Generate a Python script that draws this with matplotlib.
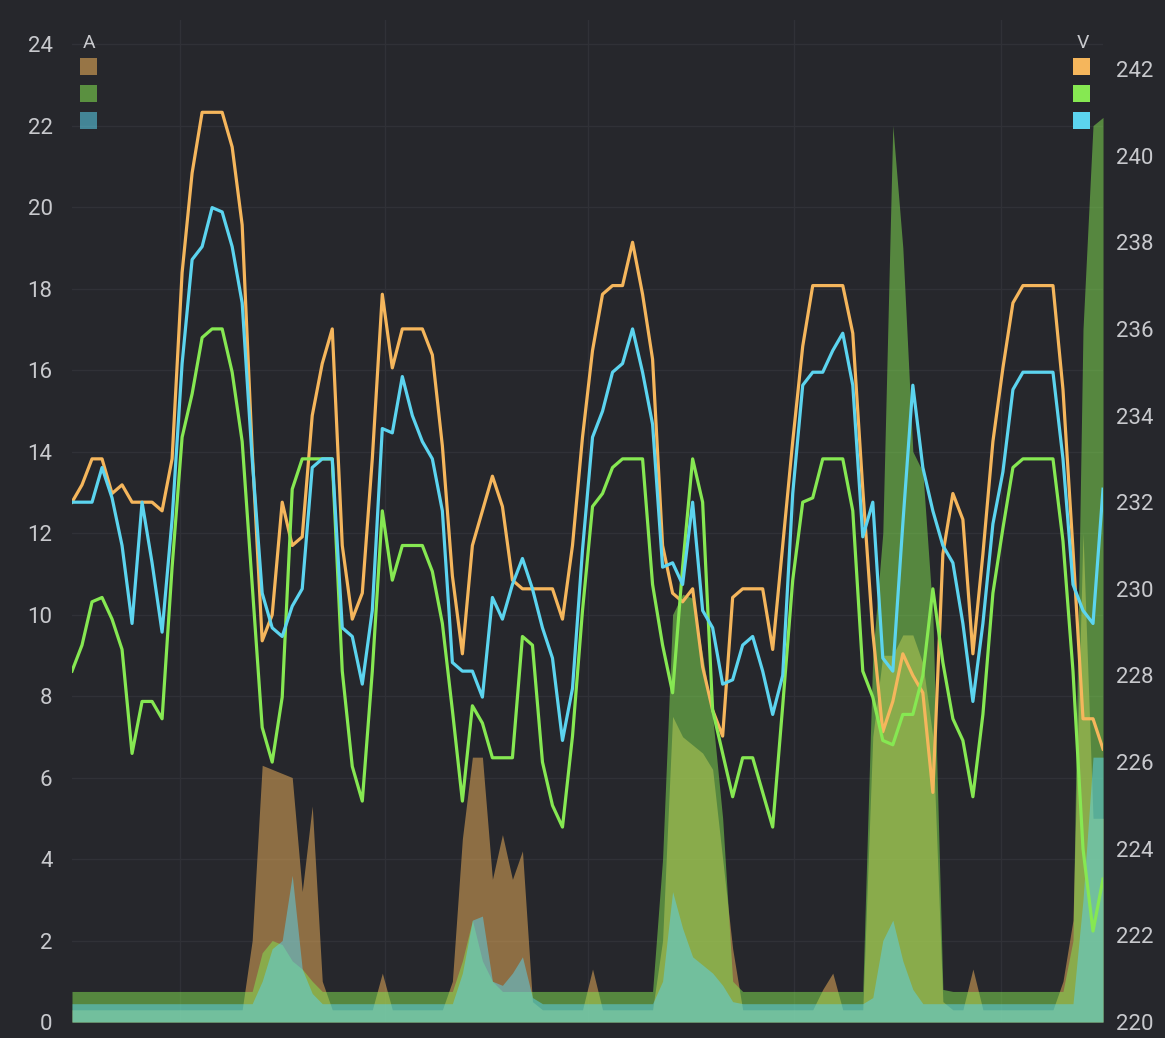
import numpy as np
import matplotlib
matplotlib.use("Agg")
import matplotlib.pyplot as plt
from matplotlib.patches import Rectangle

# sample index (one sample per ~10 px of the original panel)
t = np.arange(104)

# voltage lines (right axis, V)
v_orange = [232.0, 232.4, 233.0, 233.0, 232.2, 232.4, 232.0, 232.0, 232.0, 231.8,
            233.0, 237.3, 239.6, 241.0, 241.0, 241.0, 240.2, 238.4, 233.2, 228.8,
            229.4, 232.0, 231.0, 231.2, 234.0, 235.2, 236.0, 231.0, 229.3, 229.9,
            233.0, 236.8, 235.1, 236.0, 236.0, 236.0, 235.4, 233.3, 230.3, 228.5,
            231.0, 231.8, 232.6, 231.9, 230.2, 230.0, 230.0, 230.0, 230.0, 229.3,
            231.0, 233.5, 235.5, 236.8, 237.0, 237.0, 238.0, 236.8, 235.3, 231.0,
            229.9, 229.7, 230.0, 228.2, 227.2, 226.6, 229.8, 230.0, 230.0, 230.0,
            228.6, 231.0, 233.4, 235.6, 237.0, 237.0, 237.0, 237.0, 235.9, 232.3,
            229.0, 226.7, 227.4, 228.5, 228.0, 227.6, 225.3, 230.8, 232.2, 231.6,
            228.5, 230.8, 233.4, 235.1, 236.6, 237.0, 237.0, 237.0, 237.0, 234.6,
            230.9, 227.0, 227.0, 226.3]
v_green = [228.1, 228.7, 229.7, 229.8, 229.3, 228.6, 226.2, 227.4, 227.4, 227.0,
           230.5, 233.5, 234.5, 235.8, 236.0, 236.0, 235.0, 233.4, 230.1, 226.8,
           226.0, 227.5, 232.3, 233.0, 233.0, 233.0, 233.0, 228.1, 225.9, 225.1,
           228.1, 231.8, 230.2, 231.0, 231.0, 231.0, 230.4, 229.2, 227.2, 225.1,
           227.3, 226.9, 226.1, 226.1, 226.1, 228.9, 228.7, 226.0, 225.0, 224.5,
           226.6, 229.5, 231.9, 232.2, 232.8, 233.0, 233.0, 233.0, 230.1, 228.7,
           227.6, 230.5, 233.0, 232.0, 227.2, 226.2, 225.2, 226.1, 226.1, 225.3,
           224.5, 227.3, 230.2, 232.0, 232.1, 233.0, 233.0, 233.0, 231.8, 228.1,
           227.5, 226.5, 226.4, 227.1, 227.1, 228.0, 230.0, 228.3, 227.0, 226.5,
           225.2, 227.1, 229.9, 231.4, 232.8, 233.0, 233.0, 233.0, 233.0, 231.1,
           228.1, 224.0, 222.1, 223.3]
v_cyan = [232.0, 232.0, 232.0, 232.8, 232.1, 231.0, 229.2, 232.0, 230.6, 229.0,
          231.6, 235.2, 237.6, 237.9, 238.8, 238.7, 237.9, 236.6, 233.0, 229.9,
          229.1, 228.9, 229.6, 230.0, 232.8, 233.0, 233.0, 229.1, 228.9, 227.8,
          229.5, 233.7, 233.6, 234.9, 234.0, 233.4, 233.0, 231.8, 228.3, 228.1,
          228.1, 227.5, 229.8, 229.3, 230.1, 230.7, 230.0, 229.1, 228.4, 226.5,
          227.7, 230.9, 233.5, 234.1, 235.0, 235.2, 236.0, 235.0, 233.8, 230.5,
          230.6, 230.1, 232.0, 229.5, 229.1, 227.8, 227.9, 228.7, 228.9, 228.1,
          227.1, 228.0, 232.2, 234.7, 235.0, 235.0, 235.5, 235.9, 234.7, 231.2,
          232.0, 228.4, 228.1, 231.5, 234.7, 232.8, 231.8, 231.0, 230.6, 229.2,
          227.4, 229.2, 231.5, 232.7, 234.6, 235.0, 235.0, 235.0, 235.0, 233.0,
          230.1, 229.5, 229.2, 232.3]

# current areas (left axis, A)
a_brown = [0.3] * 104
a_green = [0.75] * 104
a_teal = [0.45] * 104
for i, v in {18: 2.0, 19: 6.3, 20: 6.2, 21: 6.1, 22: 6.0, 23: 3.2, 24: 5.3, 25: 1.0,
             31: 1.2, 38: 1.0, 39: 4.5, 40: 6.5, 41: 6.5, 42: 3.5, 43: 4.6, 44: 3.5,
             45: 4.2, 46: 0.5, 52: 1.3, 59: 2.0, 60: 7.5, 61: 7.0, 62: 6.8, 63: 6.6,
             64: 6.2, 65: 4.0, 66: 1.8, 75: 0.8, 76: 1.2, 80: 7.0, 81: 9.0, 82: 9.0,
             83: 9.5, 84: 9.5, 85: 8.8, 86: 7.0, 87: 0.5, 90: 1.3, 99: 1.0, 100: 2.5,
             101: 12.0, 102: 5.0, 103: 5.0}.items():
    a_brown[i] = v
for i, v in {19: 1.7, 20: 2.0, 21: 1.9, 22: 1.5, 23: 1.3, 24: 1.0, 39: 1.5, 40: 2.5,
             41: 1.5, 42: 1.0, 59: 4.0, 60: 10.0, 61: 10.5, 62: 10.4, 63: 9.0, 64: 7.5,
             65: 5.0, 66: 1.0, 80: 9.0, 81: 12.0, 82: 22.0, 83: 19.0, 84: 14.0,
             85: 13.5, 86: 10.0, 87: 0.8, 100: 2.0, 101: 17.0, 102: 22.0, 103: 22.2}.items():
    a_green[i] = v
for i, v in {19: 1.0, 20: 1.8, 21: 2.0, 22: 3.6, 23: 1.3, 24: 0.7, 39: 1.2, 40: 2.5,
             41: 2.6, 42: 1.0, 43: 0.9, 44: 1.2, 45: 1.6, 46: 0.6, 59: 1.0, 60: 3.2,
             61: 2.3, 62: 1.6, 63: 1.4, 64: 1.2, 65: 0.9, 66: 0.5, 80: 0.6, 81: 2.0,
             82: 2.5, 83: 1.5, 84: 0.8, 101: 3.0, 102: 6.5, 103: 6.5}.items():
    a_teal[i] = v

left_ticks = list(range(0, 25, 2))
right_ticks = list(range(220, 243, 2))

bg = "#26272c"
c_orange = "#f5b65c"
c_green = "#86e852"
c_cyan = "#5cd4ef"
txt = "#c8c9cd"

fig = plt.figure(figsize=(11.65, 10.38), dpi=100, facecolor=bg)
ax = fig.add_axes([0.0618, 0.0154, 0.885, 0.9653])
ax.set_facecolor(bg)

ax.fill_between(t, a_brown, color=c_orange, alpha=0.5, lw=0)
ax.fill_between(t, a_green, color=c_green, alpha=0.5, lw=0)
ax.fill_between(t, a_teal, color=c_cyan, alpha=0.5, lw=0)
ax.set_ylim(0, 24.59)
ax.set_xlim(0, 103)
ax.set_yticks(left_ticks)
ax.set_xticks([10.8, 31.3, 51.5, 72.1, 92.8])
ax.set_xticklabels([])
ax.grid(True, color="#303137", lw=1)
ax.set_axisbelow(True)

ax2 = ax.twinx()
ax2.plot(t, v_orange, color=c_orange, lw=2.3)
ax2.plot(t, v_green, color=c_green, lw=2.3)
ax2.plot(t, v_cyan, color=c_cyan, lw=2.3)
ax2.set_ylim(220, 243.13)
ax2.set_yticks(right_ticks)

for a in (ax, ax2):
    for s in a.spines.values():
        s.set_visible(False)
    a.tick_params(length=0, labelcolor=txt, labelsize=16, labelfontfamily="Roboto")
ax.tick_params(axis="y", pad=14)
ax2.tick_params(axis="y", pad=9)

# legends
fig.text(0.0764, 0.9586, "A", color=txt, fontsize=14, family="Roboto",
         ha="center", va="center")
fig.text(0.9296, 0.9586, "V", color=txt, fontsize=14, family="Roboto",
         ha="center", va="center")
sw, sh = 17 / 1165, 17 / 1038
for k, (ca, cv) in enumerate([(c_orange, c_orange), (c_green, c_green), (c_cyan, c_cyan)]):
    yb = 1 - (75 + 27 * k) / 1038
    fig.add_artist(Rectangle((80 / 1165, yb), sw, sh, transform=fig.transFigure,
                             facecolor=ca, alpha=0.55, lw=0))
    fig.add_artist(Rectangle((1073 / 1165, yb), sw, sh, transform=fig.transFigure,
                             facecolor=cv, lw=0))

fig.savefig("out.png", dpi=100, facecolor=bg)
